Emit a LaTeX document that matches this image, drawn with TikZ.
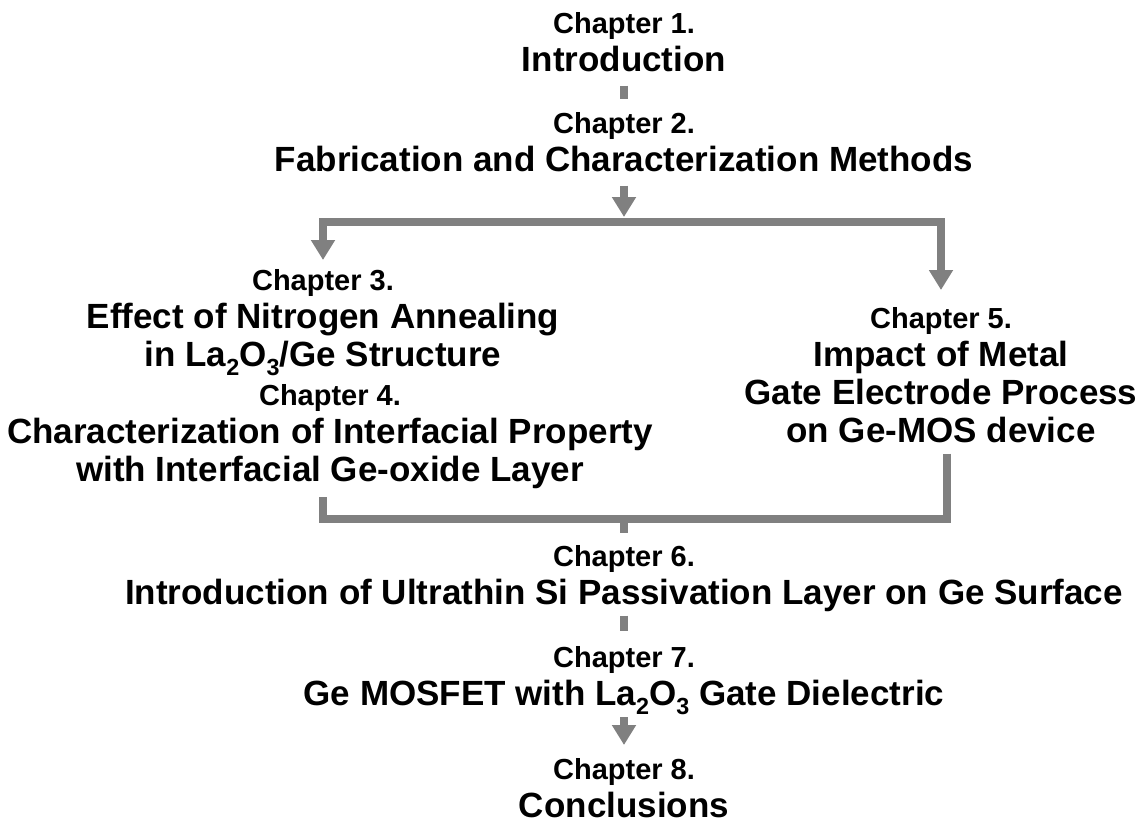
\documentclass[tikz,border=0pt]{standalone}
\usepackage{fontspec}
\setmainfont{Liberation Sans}
\usetikzlibrary{arrows.meta, positioning, calc}
\definecolor{linkgray}{HTML}{808080}

\newcommand{\chapfont}{\fontsize{21.75pt}{28.5pt}\selectfont}
\newcommand{\titlefont}{\fontsize{26.25pt}{28.5pt}\selectfont}
\newcommand{\lowsub}[1]{\raisebox{-0.27em}{\fontsize{17.5pt}{17.5pt}\selectfont #1}}

\begin{document}
\begin{tikzpicture}[x=0.75pt, y=-0.75pt,
  chap/.style={align=center, inner sep=0pt, anchor=north, font=\bfseries\titlefont},
  link/.style={draw=linkgray, line width=6pt},
  flow/.style={link, -{Triangle[length=15pt, width=17.25pt]}}]
  \useasboundingbox (0,0) rectangle (1143,824);

  \node[chap] (c1) at (624,11.8) {{\chapfont Chapter 1.}\\Introduction};
  \node[chap] (c2) at (624,111.8) {{\chapfont Chapter 2.}\\Fabrication and Characterization Methods};
  \node[chap] (c3) at (323,268.8) {{\chapfont Chapter 3.}\\Effect of Nitrogen Annealing\\in La\lowsub{2}O\lowsub{3}/Ge Structure};
  \node[chap] (c4) at (330,383.8) {{\chapfont Chapter 4.}\\Characterization of Interfacial Property\\with Interfacial Ge-oxide Layer};
  \node[chap] (c5) at (941,306.8) {{\chapfont Chapter 5.}\\Impact of Metal\\Gate Electrode Process\\on Ge-MOS device};
  \node[chap] (c6) at (624,544.8) {{\chapfont Chapter 6.}\\Introduction of Ultrathin Si Passivation Layer on Ge Surface};
  \node[chap] (c7) at (624,645.8) {{\chapfont Chapter 7.}\\Ge MOSFET with La\lowsub{2}O\lowsub{3} Gate Dielectric};
  \node[chap] (c8) at (624,757.8) {{\chapfont Chapter 8.}\\Conclusions};

  \coordinate (split) at (624,222);
  \coordinate (merge) at (624,519);

  \draw[link, shorten <=10.5pt, shorten >=9.6pt] (c1) -- (c2);
  \draw[flow, shorten <=10.5pt, shorten >=3.75pt] (c2) -- (split);
  \draw[flow, shorten >=6.6pt] (split) -| (c3.north);
  \draw[flow, shorten >=12.6pt] (split) -| (c5.north);

  % bracket joining chapters 4 and 5
  \draw[link, shorten <=6.5pt] (c3.south |- c4.south) |- (merge);
  \draw[link, shorten <=8.25pt] ([xshift=4.5pt]c5.south) |- (merge);
  \draw[link, shorten >=8.85pt] (merge) -- (c6.north);

  \draw[link, shorten <=3pt, shorten >=11.1pt] (c6) -- (c7);
  \draw[flow, shorten <=1.5pt, shorten >=9.6pt] (c7) -- (c8);
\end{tikzpicture}
\end{document}
